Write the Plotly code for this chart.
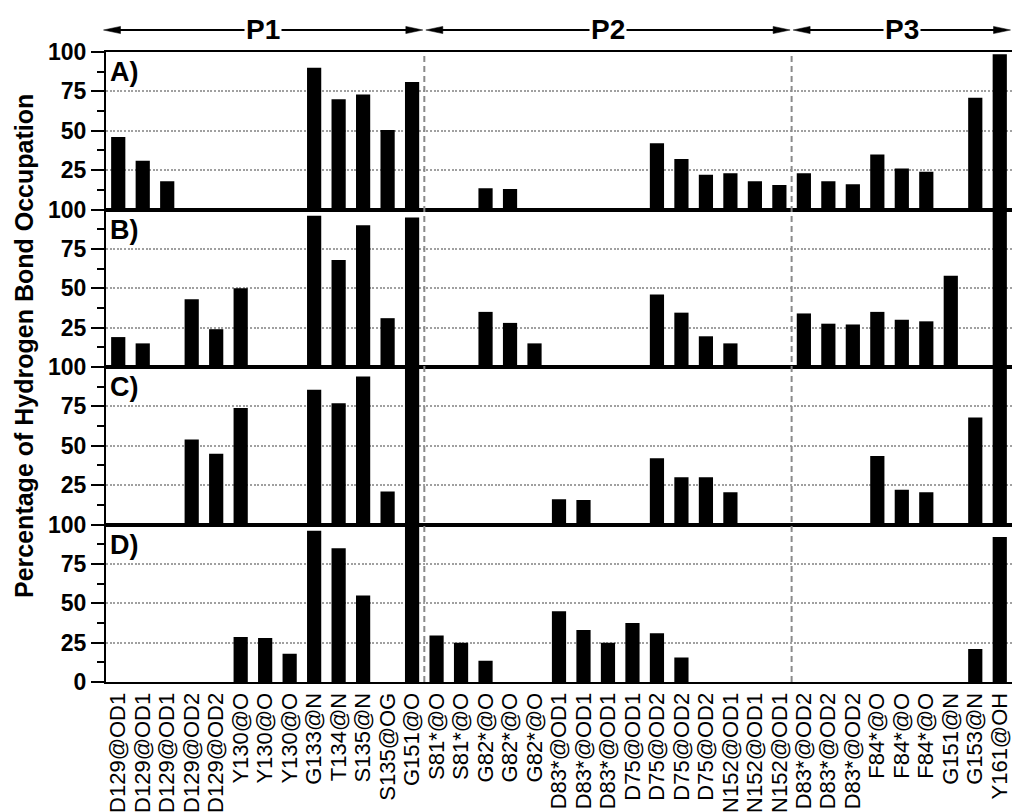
import plotly.graph_objects as go
from plotly.subplots import make_subplots

# ---------------- data ----------------
categories = ["D129@OD1", "D129@OD1", "D129@OD1", "D129@OD2", "D129@OD2",
              "Y130@O", "Y130@O", "Y130@O", "G133@N", "T134@N", "S135@N",
              "S135@OG", "G151@O", "S81*@O", "S81*@O", "G82*@O", "G82*@O",
              "G82*@O", "D83*@OD1", "D83*@OD1", "D83*@OD1", "D75@OD1",
              "D75@OD2", "D75@OD2", "D75@OD2", "N152@OD1", "N152@OD1",
              "N152@OD1", "D83*@OD2", "D83*@OD2", "D83*@OD2", "F84*@O",
              "F84*@O", "F84*@O", "G151@N", "G153@N", "Y161@OH"]

panel_a = [46, 31, 18, 0, 0, 0, 0, 0, 90, 70, 73, 50.5, 81, 0, 0, 13.5, 13, 0,
           0, 0, 0, 0, 42, 32, 22, 23, 18, 15.5, 23, 18, 16, 35, 26, 24, 0, 71, 98.5]
panel_b = [19, 15, 0, 43, 24, 50, 0, 0, 96, 68, 90, 31, 95, 0, 0, 35, 28, 15,
           0, 0, 0, 0, 46, 34.5, 19.5, 15, 0, 0, 34, 27.5, 27, 35, 30, 29, 58, 0, 100]
panel_c = [0, 0, 0, 54, 45, 74, 0, 0, 85.5, 77, 94, 21, 100, 0, 0, 0, 0, 0,
           16, 15.5, 0, 0, 42, 30, 30, 20.5, 0, 0, 0, 0, 0, 43.5, 22, 20.5, 0, 68, 100]
panel_d = [0, 0, 0, 0, 0, 28.5, 28, 18, 96, 85, 55, 0, 100, 29.5, 25, 13.5, 0, 0,
           45, 33, 25, 37.5, 31, 15.5, 0, 0, 0, 0, 0, 0, 0, 0, 0, 0, 0, 21, 92]

panel_values = [panel_a, panel_b, panel_c, panel_d]
panel_names = ["A)", "B)", "C)", "D)"]

group_names = ["P1", "P2", "P3"]
group_first = [0, 13, 28]
group_last = [12, 27, 36]

y_tickvals = [0, 25, 50, 75, 100]
y_minor_tickvals = [12.5, 37.5, 62.5, 87.5]
y_title = "Percentage of Hydrogen Bond Occupation"

# ---------------- layout constants ----------------
W, H = 1012, 812
ML, MR, MT, MB = 106, 0, 52, 130
PW, PH = W - ML - MR, H - MT - MB
FONT = "Arial, Liberation Sans, sans-serif"
N = len(categories)

fig = make_subplots(rows=4, cols=1, shared_xaxes=True, vertical_spacing=0)

for r, vals in enumerate(panel_values, start=1):
    fig.add_trace(go.Bar(x=list(range(N)), y=vals, width=0.58,
                         marker=dict(color="black", line=dict(width=0))),
                  row=r, col=1)
    last = (r == 4)
    ticktext = [("0" if (last and v == 0) else ("" if v == 0 else str(v))) for v in y_tickvals]
    fig.update_yaxes(range=[0, 100], tickmode="array", tickvals=y_tickvals, ticktext=ticktext,
                     ticks="outside", ticklen=13, tickwidth=2, tickcolor="black",
                     minor=dict(tickmode="array", tickvals=y_minor_tickvals, ticks="outside",
                                ticklen=7, tickwidth=2, tickcolor="black", showgrid=False),
                     showline=True, linewidth=2, linecolor="black", mirror=False,
                     showgrid=True, gridcolor="#a0a0a0", gridwidth=1.5, griddash="2px,1.6px",
                     zeroline=False,
                     tickfont=dict(family=FONT, size=23, color="black", weight="bold"),
                     row=r, col=1)
    fig.update_xaxes(range=[-0.5, N - 0.5], tickmode="array", tickvals=list(range(N)),
                     ticktext=categories, tickangle=-90, ticks="",
                     showline=True, linewidth=2, linecolor="black", mirror=True,
                     showgrid=False, zeroline=False, showticklabels=last,
                     tickfont=dict(family=FONT, size=22, color="black"),
                     row=r, col=1)
    xd = "x domain" if r == 1 else f"x{r} domain"
    yd = "y domain" if r == 1 else f"y{r} domain"
    fig.add_annotation(text=panel_names[r - 1], xref=xd, yref=yd, x=0, y=1,
                       xanchor="left", yanchor="top", xshift=2, yshift=-3,
                       showarrow=False,
                       font=dict(family=FONT, size=27, color="black", weight="bold"))


def px(v):
    """axis index -> paper x"""
    return (v + 0.5) / N


# dashed separators between groups
for last_i in group_last[:-1]:
    fig.add_shape(type="line", xref="x", yref="paper", x0=last_i + 0.5, x1=last_i + 0.5,
                  y0=0, y1=1, layer="above",
                  line=dict(color="#8a8a8a", width=2, dash="6px,4px"))

# group arrows on top
y_arrow = 1 + 22 / PH
head_len = 17 / PW
head_h = 3.6 / PH
gap = 1.5 / PW
for name, a, b in zip(group_names, group_first, group_last):
    xl = px(a - 0.5) + gap
    xr = px(b + 0.5) - gap
    if a == 0:
        xl -= 4 / PW
    fig.add_shape(type="line", xref="paper", yref="paper", x0=xl + head_len * 0.5,
                  x1=xr - head_len * 0.5, y0=y_arrow, y1=y_arrow,
                  line=dict(color="black", width=2))
    fig.add_shape(type="path", xref="paper", yref="paper",
                  path=f"M {xl},{y_arrow} L {xl + head_len},{y_arrow + head_h} "
                       f"L {xl + head_len},{y_arrow - head_h} Z",
                  fillcolor="black", line=dict(color="black", width=0.5))
    fig.add_shape(type="path", xref="paper", yref="paper",
                  path=f"M {xr},{y_arrow} L {xr - head_len},{y_arrow + head_h} "
                       f"L {xr - head_len},{y_arrow - head_h} Z",
                  fillcolor="black", line=dict(color="black", width=0.5))
    fig.add_annotation(text=name, xref="paper", yref="paper", x=(xl + xr) / 2, y=y_arrow,
                       xanchor="center", yanchor="middle", showarrow=False,
                       bgcolor="white", borderpad=1,
                       font=dict(family=FONT, size=28, color="black", weight="bold"))

# y-axis title
fig.add_annotation(text=y_title, xref="paper", yref="paper",
                   x=(24 - ML) / PW, y=(H - MB - 346) / PH,
                   xanchor="center", yanchor="middle", textangle=-90, showarrow=False,
                   font=dict(family=FONT, size=25, color="black", weight="bold"))

fig.update_layout(width=W, height=H, margin=dict(l=ML, r=MR, t=MT, b=MB),
                  plot_bgcolor="white", paper_bgcolor="white", showlegend=False,
                  font=dict(family=FONT, color="black"))

fig.write_html("out.html", config={"displayModeBar": False},
               post_script="document.body.style.margin='0px';"
                           "document.body.style.overflow='hidden';")
